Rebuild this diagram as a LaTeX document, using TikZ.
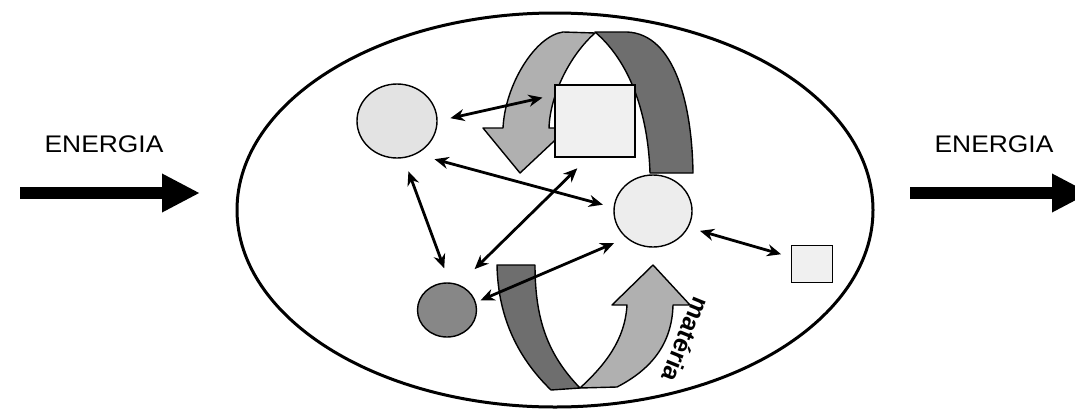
\documentclass[tikz,border=0pt]{standalone}
\usepackage{fontspec}
\setmainfont{Liberation Sans}
\usepackage{tikz}
\usetikzlibrary{arrows.meta}
\usetikzlibrary{shapes.geometric,positioning}
\definecolor{palefill}{gray}{0.89}
\definecolor{paler}{gray}{0.93}
\definecolor{boxfill}{gray}{0.94}
\definecolor{darkfill}{gray}{0.53}
\definecolor{bandlight}{gray}{0.69}
\definecolor{banddark}{gray}{0.43}

\begin{document}
\begin{tikzpicture}[x=1pt, y=-1pt, >={Stealth[length=14pt,width=12pt]},
    blob/.style={ellipse, draw, line width=1.4pt, inner sep=0pt},
    box/.style={rectangle, draw, line width=1.6pt, inner sep=0pt},
    link/.style={line width=2.8pt, <->},
    flow/.style={line width=12pt, -{Triangle[length=38pt,width=36pt]}},
    band/.style={draw, line width=1.4pt, line join=round}]
\useasboundingbox (0,0) rectangle (1075,410);

        \path
        (20,193)   coordinate (in1)
        (200,193)  coordinate (in2)
        (910,193)  coordinate (out1)
        (1090,193) coordinate (out2)
        ;

        \node (lab1) at (104,144) {\fontsize{24}{28}\selectfont\scalebox{1.1}[1]{ENERGIA}};
        \node (lab2) at (994,144) {\fontsize{24}{28}\selectfont\scalebox{1.1}[1]{ENERGIA}};

        \draw[flow] (in1) -- (in2);
        \draw[flow] (out1) -- (out2);

        \draw[line width=3pt] (555,210) ellipse [x radius=318, y radius=197];

% upper arrow
\path[band, fill=banddark] (650,173) -- (693,173) .. controls (692,105) and (675,34) .. (627,32)
    -- (595,32) .. controls (628,60) and (648,110) .. (650,173) -- cycle;
\path[band, fill=bandlight] (595,33) -- (563,32) .. controls (535,36) and (505,85) .. (503,128)
    -- (483,128) -- (520,173) -- (568,128) -- (549,128) .. controls (550,95) and (570,55) .. (595,33) -- cycle;

% lower arrow
\path[band, fill=banddark] (497,265) -- (535,265) .. controls (535,320) and (548,355) .. (580,388)
    -- (551,390) .. controls (520,360) and (498,320) .. (497,265) -- cycle;
\path[band, fill=bandlight] (580,388) -- (617,387) .. controls (650,370) and (672,345) .. (673,305)
    -- (690,305) -- (653,265) -- (612,305) -- (627,305) .. controls (625,340) and (605,365) .. (580,388) -- cycle;

        \node[rotate=-112, font=\fontsize{25}{28}\selectfont\bfseries] (mat) at (686,340) {matéria};

        \node[blob, fill=palefill, minimum width=80pt, minimum height=74pt] (A) at (397,121) {};
        \node[box, fill=boxfill, minimum width=80pt, minimum height=72pt] (B) at (595,121) {};
        \node[blob, fill=paler, minimum width=78pt, minimum height=72pt] (C) at (653,211) {};
        \node[blob, fill=darkfill, minimum width=59pt, minimum height=54pt] (D) at (447,310) {};
        \node[box, fill=boxfill, minimum width=41pt, minimum height=37pt] (E) at (812,264) {};

        \draw[link, shorten <=13pt, shorten >=12pt] (A.0) to ([yshift=26pt]B.west);
        \draw[link, shorten <=19pt, shorten >=11pt] (A.-60) to (C.175);
        \draw[link, shorten <=14pt, shorten >=15pt] (A.-80) to (D.85);
        \draw[link, shorten <=22pt, shorten >=15pt] (D.65) to ([xshift=-7pt]B.south);
        \draw[link, shorten <=5pt, shorten >=13pt] (D.15) to (C.-135);
        \draw[link, shorten <=12pt, shorten >=10pt] (C.-25) to ([yshift=7pt]E.west);
\end{tikzpicture}
\end{document}
